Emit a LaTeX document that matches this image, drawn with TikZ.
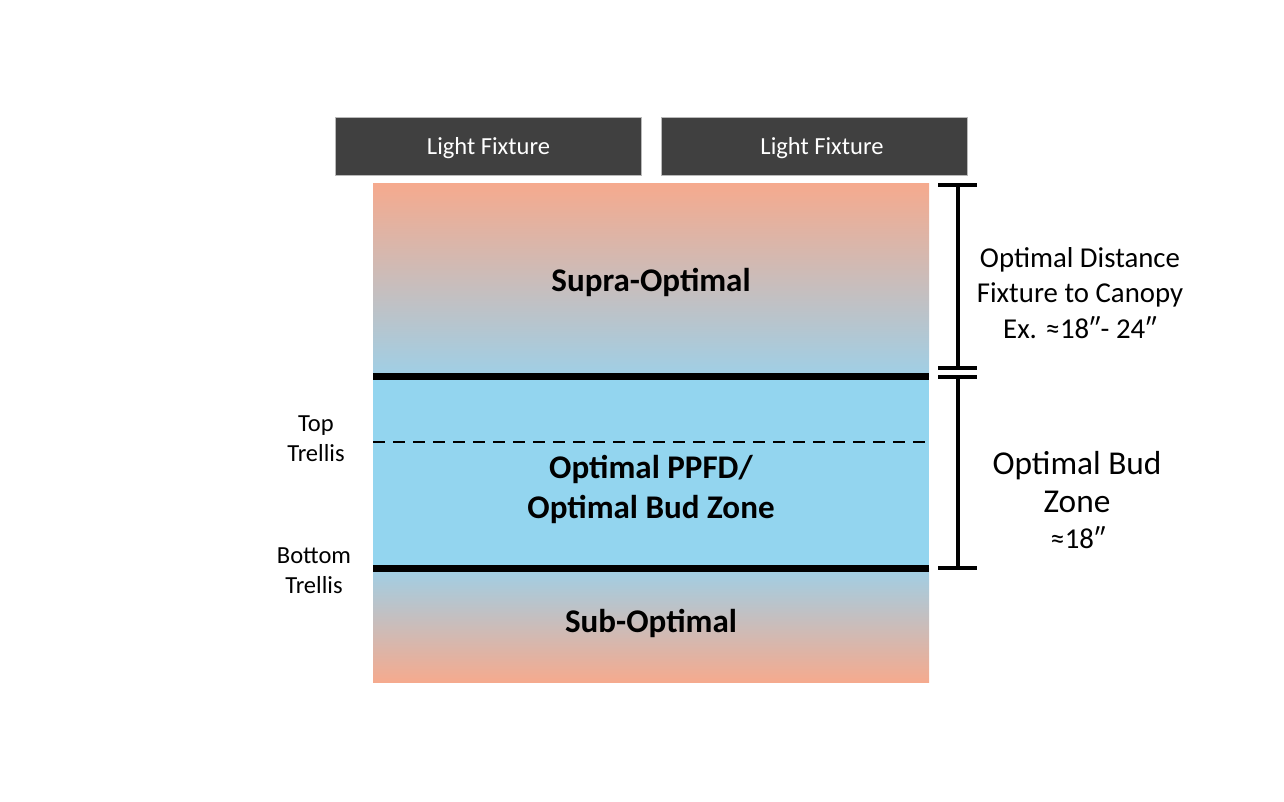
\documentclass[tikz,border=0pt]{standalone}
\usepackage{fontspec}
\setmainfont{Carlito}
\begin{document}
\begin{tikzpicture}[x=0.75pt,y=-0.75pt,
  fixture/.style={fill=fixgray,draw=gray!55,line width=0.6pt,minimum width=306*0.75pt,minimum height=58*0.75pt,inner sep=0pt},
  fixtext/.style={text=white,font=\fontsize{18.4}{20}\selectfont,inner sep=0pt},
  zonelabel/.style={font=\bfseries\fontsize{24.8}{30}\selectfont,align=center},
  sidelabel/.style={font=\fontsize{18.4}{22.5}\selectfont,align=center},
  thickline/.style={line width=5.25pt},
  bracket/.style={line width=3pt},
  dim/.style={font=\fontsize{21.6}{26.6}\selectfont,align=center}]
\definecolor{fixgray}{HTML}{404040}
\definecolor{warm}{HTML}{F5AA8E}
\definecolor{cool}{HTML}{9FCFE6}
\definecolor{midblue}{HTML}{93D5EF}
\useasboundingbox (0,0) rectangle (1284,802);
% fixtures
\node[fixture] (f1) at (488,146) {};
\node[fixture] (f2) at (814,146) {};
\node[fixtext] (t1) at (488.5,148) {Light Fixture};
\node[fixtext] (t2) at (822,148) {Light Fixture};
% zones
\shade[top color=warm,bottom color=cool] (373,184) rectangle (929,376);
\fill[midblue] (373,376) rectangle (929,568);
\shade[top color=cool,bottom color=warm] (373,568) rectangle (929,682);
\coordinate (l1a) at (373,376); \coordinate (l1b) at (929,376);
\coordinate (l2a) at (373,568); \coordinate (l2b) at (929,568);
\coordinate (da) at (373,442); \coordinate (db) at (929,442);
\draw[thickline] (l1a) -- (l1b);
\draw[thickline] (l2a) -- (l2b);
\draw[line width=0.8pt,dash pattern=on 9pt off 6pt] (da) -- (db);
\node[zonelabel] (supra) at (651,282) {Supra-Optimal};
\node[zonelabel,font=\bfseries\fontsize{24.8}{30}\selectfont] (opt) at (651,489) {Optimal PPFD/\\Optimal Bud Zone};
\node[zonelabel] (sub) at (651,623) {Sub-Optimal};
\node[sidelabel] (top) at (316,439) {Top\\Trellis};
\node[sidelabel] (bot) at (314,571) {Bottom\\Trellis};
% brackets
\coordinate (b1t) at (958,185); \coordinate (b1b) at (958,368);
\coordinate (b2t) at (958,377); \coordinate (b2b) at (958,568);
\draw[bracket] (b1t) -- (b1b);
\draw[bracket] (b2t) -- (b2b);
\foreach \yy in {185,368,377,568} \draw[bracket] (938,\yy) -- (977,\yy);
\node[dim] (d1) at (1080,293) {Optimal Distance\\Fixture to Canopy\\Ex. ≈18″- 24″};
\node[font=\fontsize{25}{28.5}\selectfont,align=center] (d2) at (1077,482) {Optimal Bud\\Zone};
\node[dim] (d3) at (1078,538) {≈18″};
\end{tikzpicture}
\end{document}
